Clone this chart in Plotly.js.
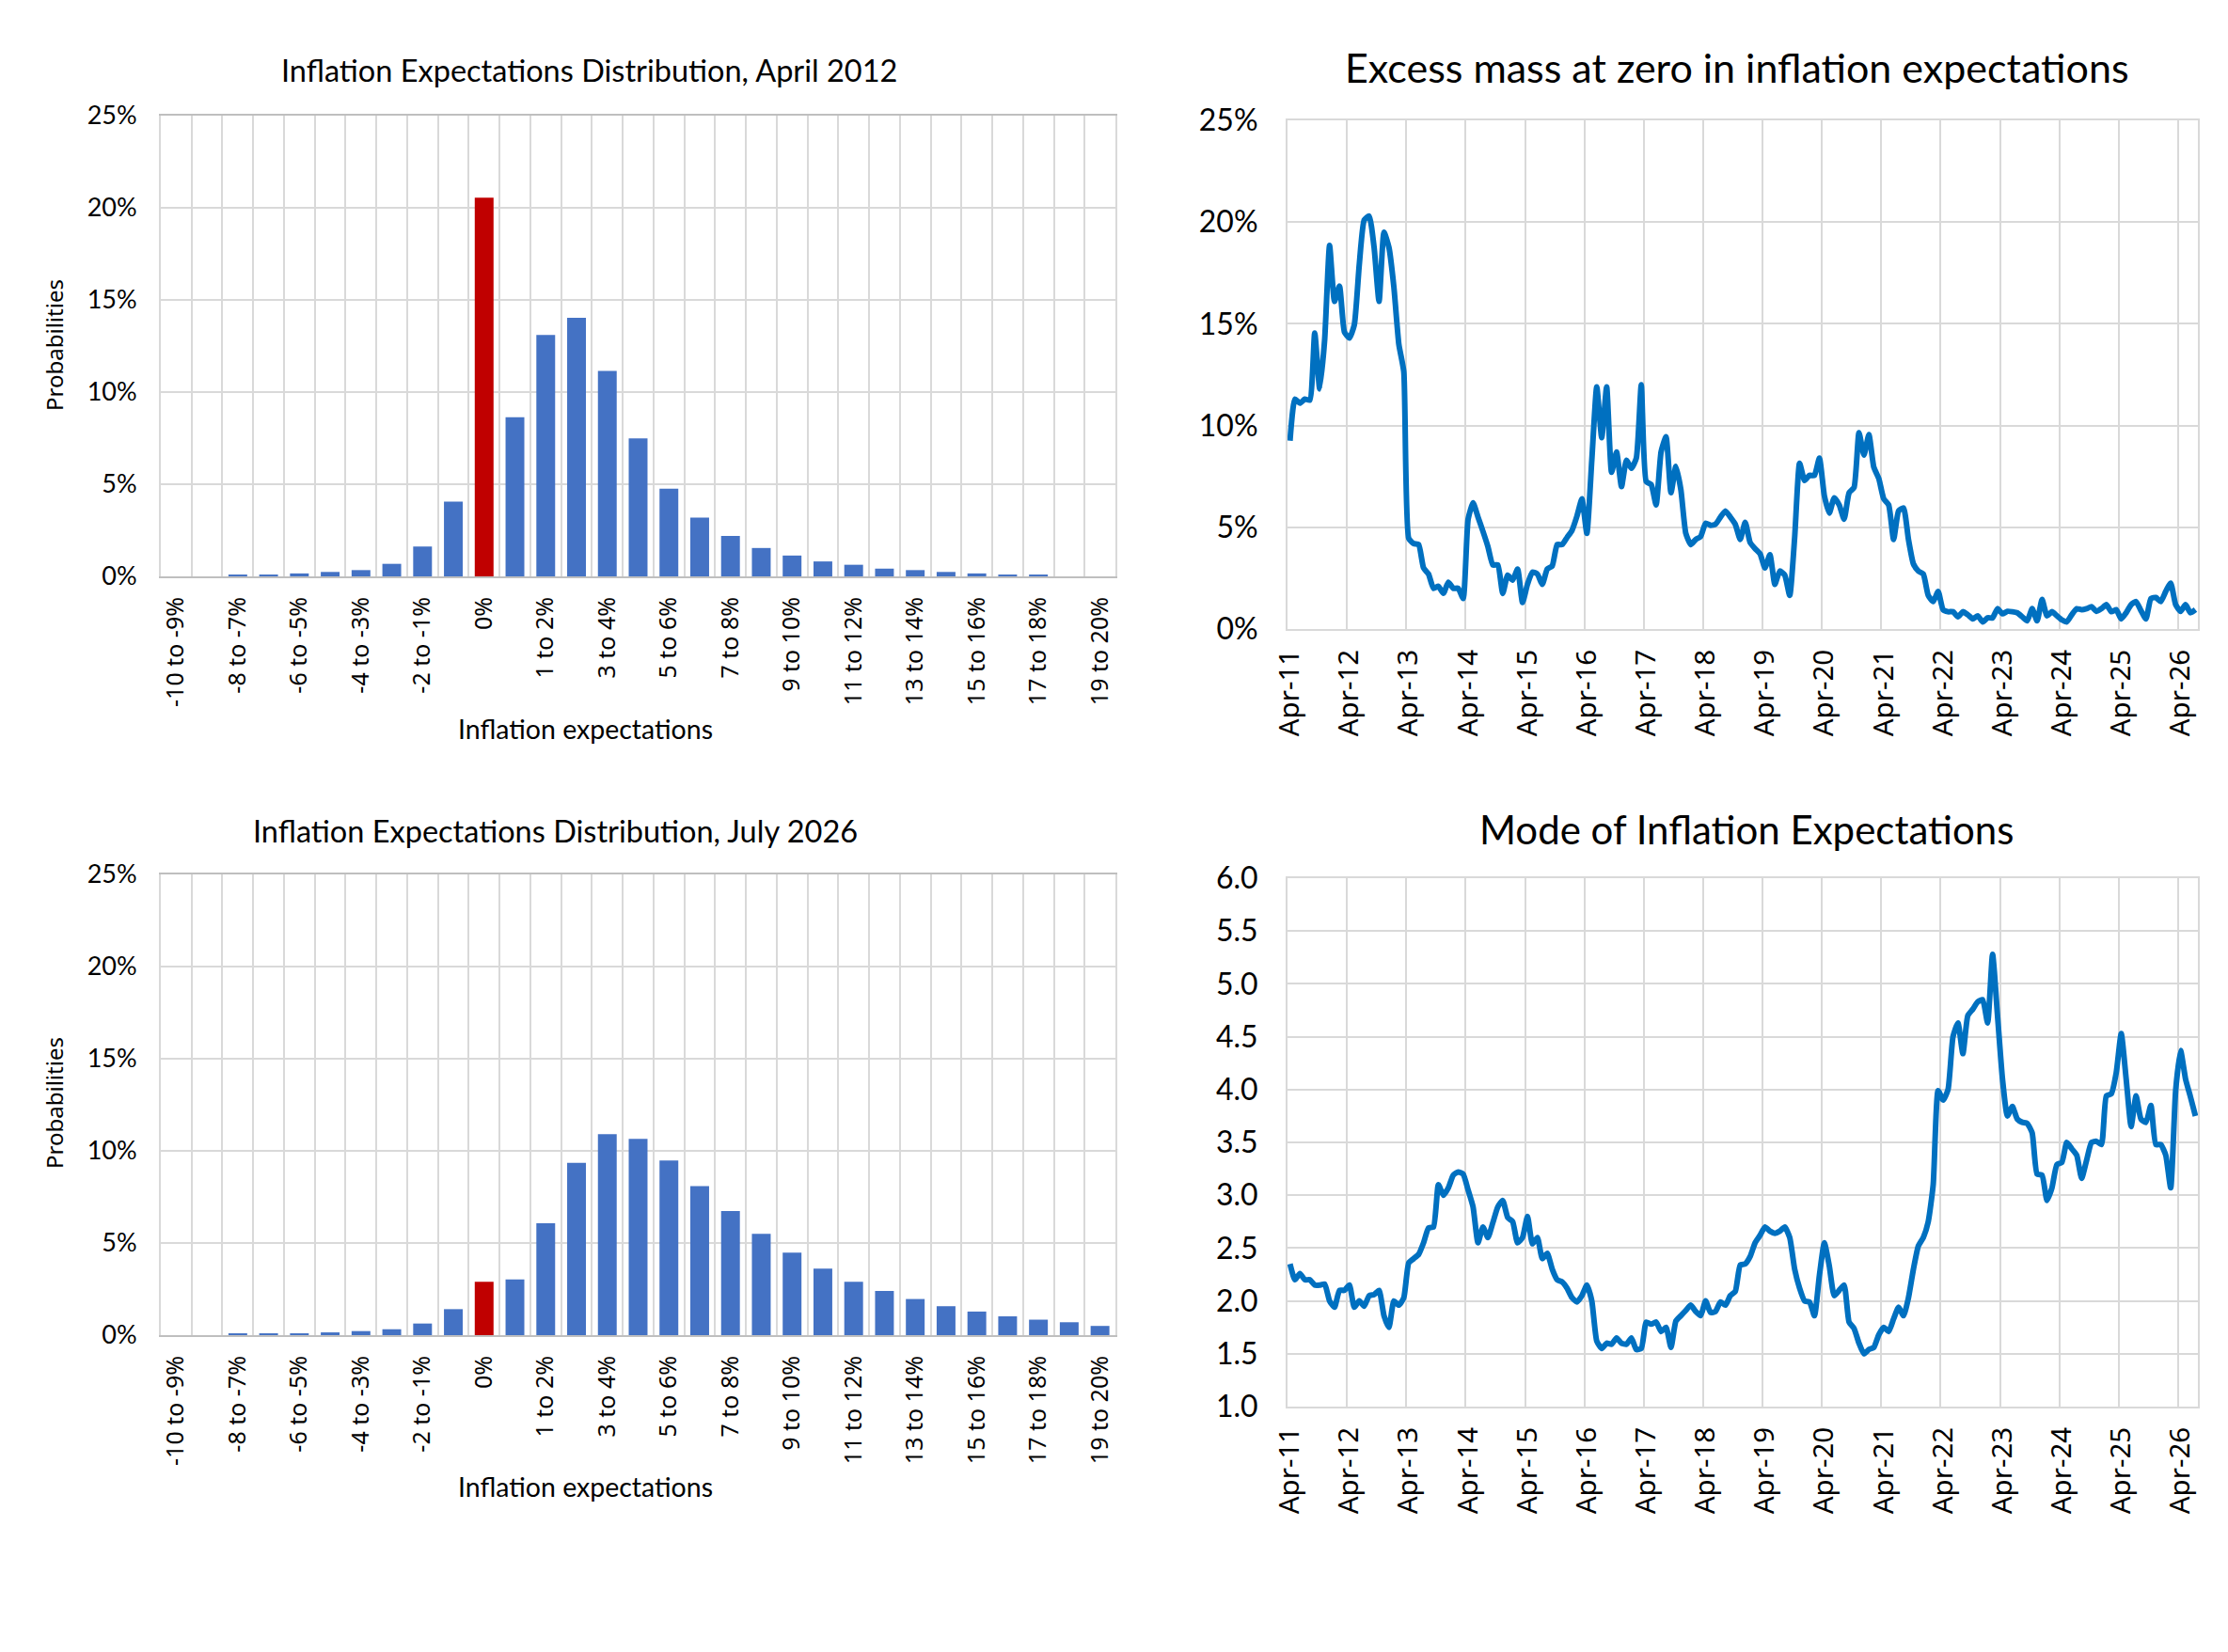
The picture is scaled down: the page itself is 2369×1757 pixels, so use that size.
<!DOCTYPE html>
<html>
<head>
<meta charset="utf-8">
<script src="https://cdn.plot.ly/plotly-3.0.1.min.js"></script>
<style>
html,body{margin:0;padding:0;background:#fff;}
#chart{width:2369px;height:1757px;}
</style>
</head>
<body>
<div id="chart"></div>
<script>
// ---------- DATA ----------
const categories = ["-10 to -9%","-9 to -8%","-8 to -7%","-7 to -6%","-6 to -5%","-5 to -4%","-4 to -3%","-3 to -2%","-2 to -1%","-1 to 0%",
  "0%","0 to 1%","1 to 2%","2 to 3%","3 to 4%","4 to 5%","5 to 6%","6 to 7%","7 to 8%","8 to 9%","9 to 10%",
  "10 to 11%","11 to 12%","12 to 13%","13 to 14%","14 to 15%","15 to 16%","16 to 17%","17 to 18%","18 to 19%","19 to 20%"];
const distApr2012 = [0, 0, 0.1, 0.1, 0.16, 0.24, 0.34, 0.68, 1.62, 4.06,
  20.55, 8.64, 13.1, 14.03, 11.15, 7.49, 4.76, 3.19, 2.2, 1.54, 1.13,
  0.81, 0.63, 0.42, 0.34, 0.24, 0.16, 0.1, 0.1, 0, 0];
const distJul2026 = [0, 0, 0.1, 0.1, 0.1, 0.15, 0.22, 0.32, 0.63, 1.41,
  2.9, 3.02, 6.07, 9.35, 10.9, 10.65, 9.48, 8.09, 6.73, 5.5, 4.48,
  3.61, 2.9, 2.4, 1.96, 1.57, 1.28, 1.02, 0.84, 0.7, 0.5];

const excessMass = [
9.25, 11.3, 11.1, 11.3, 11.25, 14.55, 11.8, 14.2, 18.85, 16.1,
16.85, 14.6, 14.3, 14.95, 17.9, 20.1, 20.3, 18.75, 16.1, 19.5,
18.75, 16.8, 14.0, 12.65, 4.45, 4.2, 4.15, 3.0, 2.7, 2.0,
2.1, 1.75, 2.3, 2.0, 2.0, 1.5, 5.4, 6.2, 5.5, 4.8,
4.05, 3.15, 3.15, 1.75, 2.65, 2.4, 2.95, 1.3, 2.2, 2.8,
2.7, 2.2, 2.95, 3.1, 4.15, 4.15, 4.5, 4.85, 5.55, 6.4,
4.7, 8.3, 11.9, 9.4, 11.9, 7.7, 8.7, 7.0, 8.3, 7.9,
8.4, 12.0, 7.25, 7.1, 6.1, 8.7, 9.45, 6.7, 8.0, 6.85,
4.7, 4.15, 4.4, 4.55, 5.2, 5.1, 5.15, 5.5, 5.8, 5.5,
5.15, 4.4, 5.25, 4.25, 3.95, 3.7, 3.0, 3.65, 2.2, 2.85,
2.65, 1.65, 4.5, 8.15, 7.3, 7.55, 7.55, 8.4, 6.55, 5.7,
6.45, 6.1, 5.4, 6.7, 6.95, 9.65, 8.55, 9.55, 7.95, 7.4,
6.4, 6.1, 4.4, 5.8, 5.95, 4.4, 3.2, 2.85, 2.7, 1.65,
1.35, 1.85, 0.95, 0.85, 0.85, 0.6, 0.85, 0.7, 0.5, 0.65,
0.35, 0.55, 0.55, 1.0, 0.75, 0.87, 0.85, 0.8, 0.6, 0.4,
1.0, 0.4, 1.45, 0.65, 0.85, 0.65, 0.45, 0.35, 0.7, 1.0,
0.95, 1.0, 1.1, 0.87, 1.0, 1.2, 0.85, 0.95, 0.5, 0.8,
1.2, 1.35, 0.9, 0.5, 1.5, 1.55, 1.35, 1.85, 2.25, 1.2,
0.87, 1.2, 0.8, 0.95];

const modeExp = [
2.35, 2.2, 2.26, 2.2, 2.2, 2.15, 2.15, 2.16, 2.0, 1.94,
2.1, 2.1, 2.15, 1.94, 2.0, 1.95, 2.05, 2.06, 2.1, 1.86,
1.75, 2.0, 1.96, 2.03, 2.36, 2.4, 2.44, 2.55, 2.69, 2.7,
3.1, 3.0, 3.07, 3.19, 3.22, 3.2, 3.05, 2.89, 2.55, 2.7,
2.6, 2.74, 2.89, 2.95, 2.79, 2.75, 2.55, 2.6, 2.8, 2.54,
2.6, 2.4, 2.45, 2.3, 2.2, 2.18, 2.12, 2.03, 1.99, 2.05,
2.15, 2.0, 1.62, 1.55, 1.6, 1.59, 1.65, 1.6, 1.59, 1.65,
1.54, 1.55, 1.8, 1.78, 1.8, 1.71, 1.75, 1.56, 1.81, 1.86,
1.91, 1.96, 1.9, 1.86, 2.0, 1.89, 1.9, 1.99, 1.96, 2.05,
2.09, 2.34, 2.35, 2.42, 2.55, 2.62, 2.7, 2.66, 2.64, 2.66,
2.7, 2.6, 2.3, 2.12, 2.0, 1.99, 1.86, 2.24, 2.55, 2.33,
2.05, 2.1, 2.15, 1.8, 1.74, 1.6, 1.5, 1.54, 1.56, 1.68,
1.75, 1.71, 1.83, 1.94, 1.86, 2.03, 2.3, 2.52, 2.6, 2.75,
3.1, 3.99, 3.9, 4.0, 4.5, 4.63, 4.34, 4.7, 4.76, 4.83,
4.85, 4.63, 5.28, 4.7, 4.1, 3.75, 3.84, 3.72, 3.69, 3.68,
3.59, 3.2, 3.19, 2.95, 3.07, 3.29, 3.31, 3.5, 3.44, 3.38,
3.16, 3.33, 3.5, 3.51, 3.48, 3.94, 3.96, 4.16, 4.53, 4.1,
3.65, 3.94, 3.72, 3.69, 3.85, 3.48, 3.48, 3.38, 3.07, 3.99,
4.37, 4.1, 3.93, 3.75];

// month index of each April label (Apr-11 = 0), and its text
const aprilTickIdx = [0, 12, 24, 36, 48, 60, 72, 84, 96, 108, 120, 132, 144, 156, 168, 180];
const aprilTickText = ["Apr-11","Apr-12","Apr-13","Apr-14","Apr-15","Apr-16","Apr-17","Apr-18",
  "Apr-19","Apr-20","Apr-21","Apr-22","Apr-23","Apr-24","Apr-25","Apr-26"];

// ---------- STYLE ----------
const W = 2369, H = 1757;
const BLUE = "#4472C4", RED = "#C00000", LINE = "#0070C0";
const GRID = "#D9D9D9";
const TITLE_FONT = "Lato, 'Open Sans', sans-serif";
const TICK_FONT = "'Noto Sans', 'Open Sans', sans-serif";

const catIdx = categories.map((c, i) => i);
const barColors = categories.map(c => c === "0%" ? RED : BLUE);
const catTickIdx = catIdx.filter(i => i % 2 === 0);
const catTickText = catTickIdx.map(i => categories[i]);
const monthIdx = excessMass.map((v, i) => i);

function px(x) { return x / W; }
function py(y) { return 1 - y / H; }

function barX(domain) {
  return {
    domain: domain, range: [-0.5, categories.length - 0.5], type: "linear",
    tickmode: "array", tickvals: catTickIdx, ticktext: catTickText,
    tickangle: -90, ticks: "", showgrid: false, zeroline: false,
    ticklabelstandoff: 10,
    tickfont: {family: TICK_FONT, size: 25, color: "#000"},
    showline: true, linecolor: "#BFBFBF", linewidth: 2, mirror: true,
    minor: {tickmode: "linear", tick0: -0.5, dtick: 1, showgrid: true, gridcolor: GRID, gridwidth: 2, ticks: ""}
  };
}
function barY(domain) {
  return {
    domain: domain, range: [0, 25], tickmode: "linear", tick0: 0, dtick: 5, ticksuffix: "%",
    ticks: "", showgrid: true, gridcolor: GRID, gridwidth: 2, zeroline: false,
    ticklabelstandoff: 18,
    tickfont: {family: TITLE_FONT, size: 27, color: "#000"},
    showline: true, linecolor: "#D9D9D9", linewidth: 2, mirror: true
  };
}
function lineX(domain) {
  return {
    domain: domain, range: [-0.5, excessMass.length - 0.5], type: "linear",
    tickmode: "array", tickvals: aprilTickIdx, ticktext: aprilTickText,
    tickangle: -90, ticks: "", showgrid: false, zeroline: false,
    ticklabelstandoff: 8,
    tickfont: {family: TICK_FONT, size: 29.5, color: "#000"},
    showline: true, linecolor: "#D9D9D9", linewidth: 2, mirror: true,
    minor: {tickmode: "linear", tick0: -0.5, dtick: 12, showgrid: true, gridcolor: GRID, gridwidth: 2, ticks: ""}
  };
}
function lineY(domain, extra) {
  return Object.assign({
    domain: domain, ticks: "", showgrid: true, gridcolor: GRID, gridwidth: 2, zeroline: false,
    ticklabelstandoff: 23,
    tickfont: {family: TITLE_FONT, size: 32, color: "#000"},
    showline: true, linecolor: "#D9D9D9", linewidth: 2, mirror: true
  }, extra);
}

const data = [
  {type: "bar", x: catIdx, y: distApr2012, marker: {color: barColors}, xaxis: "x", yaxis: "y", hoverinfo: "skip"},
  {type: "bar", x: catIdx, y: distJul2026, marker: {color: barColors}, xaxis: "x2", yaxis: "y2", hoverinfo: "skip"},
  {type: "scatter", mode: "lines", x: monthIdx, y: excessMass, line: {color: LINE, width: 6, shape: "spline", smoothing: 0.5},
   xaxis: "x3", yaxis: "y3", hoverinfo: "skip"},
  {type: "scatter", mode: "lines", x: monthIdx, y: modeExp, line: {color: LINE, width: 6, shape: "spline", smoothing: 0.5},
   xaxis: "x4", yaxis: "y4", hoverinfo: "skip"}
];

const leftX = [px(171), px(1186)];
const rightX = [px(1369), px(2337)];

const layout = {
  width: W, height: H, margin: {l: 0, r: 0, t: 0, b: 0},
  paper_bgcolor: "#fff", plot_bgcolor: "#fff", showlegend: false, bargap: 0.39,
  xaxis: barX(leftX),
  yaxis: barY([py(613), py(123)]),
  xaxis2: Object.assign(barX(leftX), {anchor: "y2"}),
  yaxis2: Object.assign(barY([py(1420), py(930)]), {anchor: "x2"}),
  xaxis3: Object.assign(lineX(rightX), {anchor: "y3"}),
  yaxis3: Object.assign(lineY([py(669), py(128)], {range: [0, 25], tickmode: "linear", tick0: 0, dtick: 5, ticksuffix: "%"}), {anchor: "x3"}),
  xaxis4: Object.assign(lineX(rightX), {anchor: "y4"}),
  yaxis4: Object.assign(lineY([py(1496), py(934)], {range: [1, 6], tickmode: "linear", tick0: 1, dtick: 0.5, tickformat: ".1f"}), {anchor: "x4"}),
  annotations: [
    {text: "Inflation Expectations Distribution, April 2012", x: px(626), y: py(75), xref: "paper", yref: "paper",
     xanchor: "center", yanchor: "middle", showarrow: false, font: {family: TITLE_FONT, size: 32.5, color: "#000"}},
    {text: "Inflation Expectations Distribution, July 2026", x: px(590), y: py(883), xref: "paper", yref: "paper",
     xanchor: "center", yanchor: "middle", showarrow: false, font: {family: TITLE_FONT, size: 32.5, color: "#000"}},
    {text: "Excess mass at zero in inflation expectations", x: px(1847), y: py(71), xref: "paper", yref: "paper",
     xanchor: "center", yanchor: "middle", showarrow: false, font: {family: TITLE_FONT, size: 43, color: "#000"}},
    {text: "Mode of Inflation Expectations", x: px(1857), y: py(882), xref: "paper", yref: "paper",
     xanchor: "center", yanchor: "middle", showarrow: false, font: {family: TITLE_FONT, size: 42, color: "#000"}},
    {text: "Probabilities", x: px(57), y: py(367), xref: "paper", yref: "paper", textangle: -90,
     xanchor: "center", yanchor: "middle", showarrow: false, font: {family: TICK_FONT, size: 24, color: "#000"}},
    {text: "Probabilities", x: px(57), y: py(1173), xref: "paper", yref: "paper", textangle: -90,
     xanchor: "center", yanchor: "middle", showarrow: false, font: {family: TICK_FONT, size: 24, color: "#000"}},
    {text: "Inflation expectations", x: px(622), y: py(775), xref: "paper", yref: "paper",
     xanchor: "center", yanchor: "middle", showarrow: false, font: {family: TITLE_FONT, size: 28.5, color: "#000"}},
    {text: "Inflation expectations", x: px(622), y: py(1581), xref: "paper", yref: "paper",
     xanchor: "center", yanchor: "middle", showarrow: false, font: {family: TITLE_FONT, size: 28.5, color: "#000"}}
  ]
};

Plotly.newPlot("chart", data, layout, {staticPlot: true, displayModeBar: false});
</script>
</body>
</html>
